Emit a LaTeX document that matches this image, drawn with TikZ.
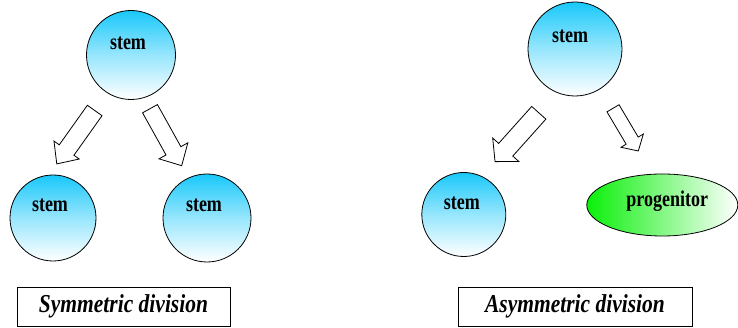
\documentclass[tikz,border=0pt]{standalone}
\usepackage{fontspec}
\setmainfont{Liberation Serif}
\usepackage{graphicx}
\usetikzlibrary{calc,shapes.geometric}
\definecolor{cellblue}{RGB}{25,200,250}
\definecolor{cellgreen}{RGB}{10,240,10}
\tikzset{
  stemcell/.style={circle, draw=black, line width=0.8pt, inner sep=0pt, top color=cellblue, bottom color=white, middle color=cellblue!45!white},
  progcell/.style={ellipse, draw=black, line width=0.8pt, inner sep=0pt, left color=cellgreen, right color=white},
  celltext/.style={inner sep=0pt, font=\fontsize{18}{20}\selectfont\bfseries},
  captionbox/.style={draw=black, line width=0.8pt, minimum height=39pt, inner sep=0pt, font=\fontsize{21.5}{24}\selectfont\bfseries\itshape},
  arrowbox/.style={draw=black, fill=white, line width=0.8pt, line join=miter},
}
\newcommand\stretchtext[2]{\scalebox{1}[#1]{#2}}
% block arrow: tail coordinate, tip coordinate, shaft width, head width, head length
\newcommand\blockarrow[5]{%
  \path[arrowbox] let \p1=(#1), \p2=(#2), \n1={atan2(\y2-\y1,\x2-\x1)}, \n2={veclen(\x2-\x1,\y2-\y1)} in
    {[shift={(\p1)}, rotate=\n1]
     (0,-#3/2) -- (\n2-#5,-#3/2) -- (\n2-#5,-#4/2) -- (\n2,0) -- (\n2-#5,#4/2) -- (\n2-#5,#3/2) -- (0,#3/2) -- cycle};
}
\begin{document}
\begin{tikzpicture}[x=1pt,y=1pt]
\useasboundingbox (0,0) rectangle (738,328);
% symmetric division
\node[stemcell, minimum size=89pt] (s0) at (131,273) {};
\node[stemcell, minimum size=86pt] (s1) at (53,110) {};
\node[stemcell, minimum size=88pt] (s2) at (207,110) {};
\node[celltext] (t0) at ([shift={(-3,12)}]s0.center) {\stretchtext{1.25}{stem}};
\node[celltext] (t1) at ([shift={(-3,13)}]s1.center) {\stretchtext{1.25}{stem}};
\node[celltext] (t2) at ([shift={(-3,13)}]s2.center) {\stretchtext{1.25}{stem}};
\coordinate (la1) at (94.7,217.5);
\coordinate (lb1) at (56.7,164);
\coordinate (la2) at (150,219.3);
\coordinate (lb2) at (181.7,162.3);
\blockarrow{la1}{lb1}{18}{31}{17}
\blockarrow{la2}{lb2}{17}{33}{17}
\node[captionbox, minimum width=213pt] (c1) at (123.5,21.5) {\stretchtext{1.2}{Symmetric division}};
% asymmetric division
\node[stemcell, minimum size=94pt] (a0) at (575,279) {};
\node[stemcell, minimum size=84pt] (a1) at (463.8,113.5) {};
\node[progcell, minimum width=151pt, minimum height=62pt] (p1) at (662.3,123) {};
\node[celltext] (u0) at ([shift={(-5,13)}]a0.center) {\stretchtext{1.25}{stem}};
\node[celltext] (u1) at ([shift={(-2,11)}]a1.center) {\stretchtext{1.25}{stem}};
\node[celltext] (u2) at ([shift={(5,4)}]p1.center) {\stretchtext{1.25}{progenitor}};
\coordinate (ra1) at (538.8,215.2);
\coordinate (rb1) at (495,166.3);
\coordinate (ra2) at (613,219.7);
\coordinate (rb2) at (638.3,177);
\blockarrow{ra1}{rb1}{19}{35}{16}
\blockarrow{ra2}{rb2}{14}{26}{12}
\node[captionbox, minimum width=234pt] (c2) at (575,21.5) {\stretchtext{1.2}{Asymmetric division}};
\end{tikzpicture}
\end{document}
